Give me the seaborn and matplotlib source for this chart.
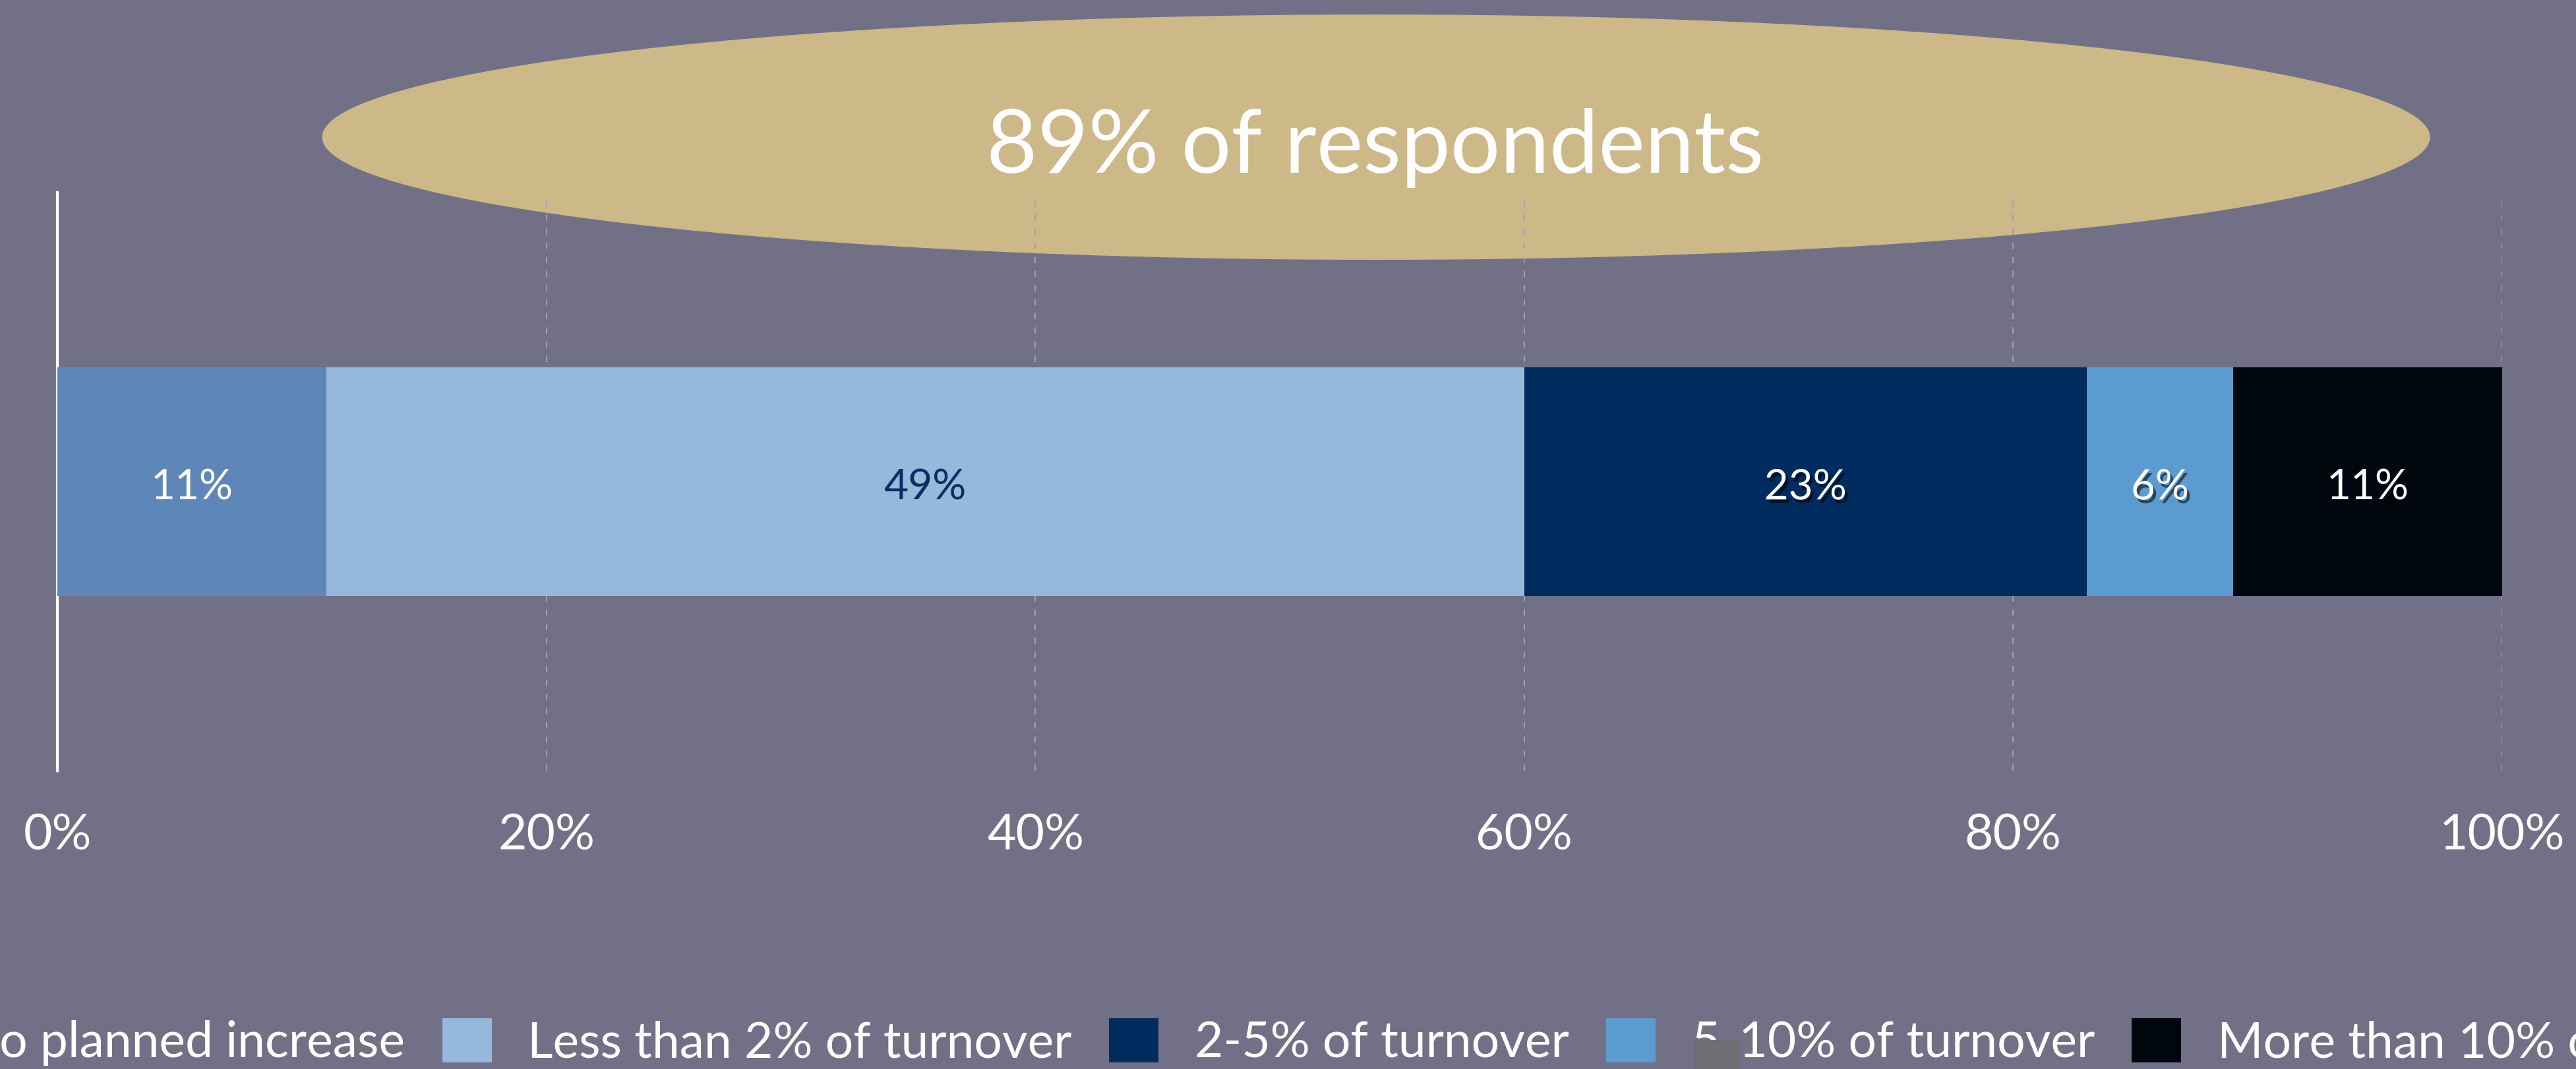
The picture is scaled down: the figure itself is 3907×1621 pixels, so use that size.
import numpy as np
import pandas as pd
import seaborn as sns
import matplotlib
matplotlib.use("Agg")
import matplotlib.pyplot as plt
from matplotlib.patches import Ellipse, Patch, Rectangle
import matplotlib.patheffects as pe

# Planned increase in spending, share of respondents
categories = ["No planned increase", "Less than 2% of turnover", "2-5% of turnover",
              "5-10% of turnover", "More than 10% of turnover"]
shares = [11, 49, 23, 6, 11]
colors = ["#5E86B8", "#95B8DB", "#002B5F", "#5C9BD0", "#00060E"]
label_colors = ["white", "#0A2D63", "white", "white", "white"]
label_shadow = [False, False, True, True, False]
tick_values = [0, 20, 40, 60, 80, 100]
tick_labels = ["0%", "20%", "40%", "60%", "80%", "100%"]
callout = "89% of respondents"

BG = "#727086"
FONT = "Lato"

sns.set_theme(style="white")
plt.rcParams["font.family"] = [FONT, "DejaVu Sans"]

fig = plt.figure(figsize=(39.07, 16.21), dpi=100, facecolor=BG)
ax = fig.add_axes([0.02227, 0.2788, 0.94903, 0.5411])
ax.set_facecolor("none")

# Highlight ellipse behind the plotting area
ell = Ellipse((0.5342, 0.8717), 0.8183, 0.2295, transform=fig.transFigure,
              facecolor="#CDB888", edgecolor="none", zorder=-5)
fig.add_artist(ell)
fig.text(0.5337, 0.8384, callout, ha="center", va="baseline", color="white",
         fontsize=96, zorder=5)

# Stacked bar: draw cumulative totals from the longest down
cum = np.cumsum(shares)
df = pd.DataFrame({"group": [""] * len(shares), "cum": cum, "cat": categories})
for i in range(len(shares) - 1, -1, -1):
    sns.barplot(data=df.iloc[[i]], x="cum", y="group", orient="h", color=colors[i],
                saturation=1, width=0.395, linewidth=0, ax=ax, zorder=3)

starts = cum - np.array(shares)
for s, v, c, sh in zip(starts, shares, label_colors, label_shadow):
    effects = None
    if sh:
        effects = [pe.withSimplePatchShadow(offset=(3, -4), shadow_rgbFace="black", alpha=0.55)]
    ax.text(s + v / 2, 0.01, f"{v}%", ha="center", va="center", color=c,
            fontsize=46, zorder=6, path_effects=effects)

ax.set_xlim(0, 100)
ax.set_ylim(0.5, -0.5)
ax.set_xticks(tick_values)
ax.set_xticklabels(tick_labels, fontsize=54, color="white")
ax.set_yticks([])
ax.set_xlabel("")
ax.set_ylabel("")
ax.tick_params(axis="x", length=0, pad=46)
for x in tick_values[1:]:
    ax.axvline(x, color="#A3A1AF", linestyle=(0, (5, 6)), linewidth=1.4, zorder=1)
for side in ["top", "right", "bottom"]:
    ax.spines[side].set_visible(False)
ax.spines["left"].set_color("white")
ax.spines["left"].set_linewidth(3)

handles = [Patch(facecolor=c, edgecolor="none", label=l) for c, l in zip(colors, categories)]
fig.legend(handles=handles, loc="center", bbox_to_anchor=(0.5222, 0.0253), ncol=5,
           frameon=False, fontsize=54, labelcolor="white", handlelength=1.0,
           handleheight=1.0, handletextpad=0.73, columnspacing=0.75, borderpad=0)

fig.add_artist(Rectangle((0.6579, 0.0), 0.0171, 0.027, transform=fig.transFigure,
                         facecolor="#6E6E73", edgecolor="none", zorder=10))

fig.savefig("out.png", dpi=100, facecolor=BG)
